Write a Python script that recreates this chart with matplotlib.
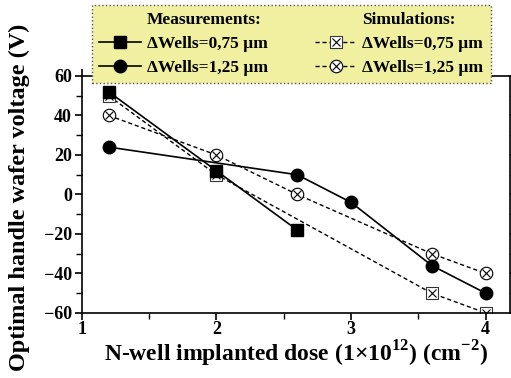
import matplotlib
matplotlib.use('Agg')
import matplotlib.pyplot as plt
from matplotlib.lines import Line2D
from matplotlib.legend_handler import HandlerTuple

plt.rcParams['font.family'] = ['Liberation Serif', 'DejaVu Serif']
plt.rcParams['font.weight'] = 'bold'
plt.rcParams['mathtext.fontset'] = 'custom'
plt.rcParams['mathtext.rm'] = 'Liberation Serif:bold'
plt.rcParams['mathtext.bf'] = 'Liberation Serif:bold'

# measurements
x_meas_075 = [1.2, 2.0, 2.6]
y_meas_075 = [52, 12, -18]
x_meas_125 = [1.2, 2.6, 3.0, 3.6, 4.0]
y_meas_125 = [24, 10, -4, -36, -50]

# simulations
x_sim_075 = [1.2, 2.0, 3.6, 4.0]
y_sim_075 = [50, 10, -50, -60]
x_sim_125 = [1.2, 2.0, 2.6, 3.6, 4.0]
y_sim_125 = [40, 20, 0, -30, -40]

fig = plt.figure(figsize=(5.11, 3.78), dpi=100)
ax = fig.add_axes([0.160, 0.172, 0.838, 0.627])

dash = (0, (3, 2))
# simulation lines (drawn first, under the measurements)
ax.plot(x_sim_075, y_sim_075, color='black', lw=1, ls=dash, marker='s', ms=8,
        mfc='white', mec='#333333', mew=0.8, zorder=2)
ax.plot(x_sim_075, y_sim_075, ls='none', marker='x', ms=6, mec='black', mew=0.8, zorder=2)
ax.plot(x_sim_125, y_sim_125, color='black', lw=1, ls=dash, marker='o', ms=9,
        mfc='white', mec='black', mew=0.8, zorder=2)
ax.plot(x_sim_125, y_sim_125, ls='none', marker='x', ms=6, mec='black', mew=0.8, zorder=2)

ax.plot(x_meas_075, y_meas_075, color='black', lw=1.2, marker='s', ms=8, zorder=3)
ax.plot(x_meas_125, y_meas_125, color='black', lw=1.2, marker='o', ms=9, zorder=3)

ax.set_xlim(1, 4.18)
ax.set_ylim(-60, 60)
ax.set_xticks([1, 2, 3, 4])
ax.set_xticks([1.5, 2.5, 3.5], minor=True)
ax.set_yticks(range(-60, 61, 20))
ax.set_yticks(range(-50, 60, 20), minor=True)
ax.tick_params(axis='both', which='major', labelsize=13, width=1.2, length=5)
ax.tick_params(axis='both', which='minor', width=1, length=4)
ax.tick_params(axis='x', which='both', direction='out', top=True)
ax.tick_params(axis='y', which='both', direction='out', right=True)
ax.tick_params(axis='x', which='major', pad=1)
ax.tick_params(axis='y', which='major', pad=2)
for s in ax.spines.values():
    s.set_linewidth(1.2)

ax.set_xlabel(r'N-well implanted dose (1×10$^{12}$) (cm$^{-2}$)', fontsize=17,
              fontweight='bold', labelpad=0)
ax.set_ylabel('Optimal handle wafer voltage (V)', fontsize=17.5, fontweight='bold')
ax.yaxis.set_label_coords(-0.121, 0.49)

blank = Line2D([], [], ls='none')
h_m075 = Line2D([], [], color='black', lw=1.2, marker='s', ms=8)
h_m125 = Line2D([], [], color='black', lw=1.2, marker='o', ms=9)
h_s075 = (Line2D([], [], color='black', lw=1, ls=dash, marker='s', ms=8, mfc='white', mec='#333333', mew=0.8),
          Line2D([], [], ls='none', marker='x', ms=6, mec='black', mew=0.8))
h_s125 = (Line2D([], [], color='black', lw=1, ls=dash, marker='o', ms=9, mfc='white', mec='black', mew=0.8),
          Line2D([], [], ls='none', marker='x', ms=6, mec='black', mew=0.8))

handles = [blank, h_m075, h_m125, blank, h_s075, h_s125]
labels = ['Measurements:', 'ΔWells=0,75 µm', 'ΔWells=1,25 µm',
          'Simulations:', 'ΔWells=0,75 µm', 'ΔWells=1,25 µm']
leg = fig.legend(handles, labels, ncol=2, loc='upper left',
                 bbox_to_anchor=(92 / 511, 1 - 5 / 378),
                 handler_map={tuple: HandlerTuple(ndivide=1)},
                 prop={'size': 12.5, 'weight': 'bold'}, frameon=True, fancybox=False,
                 handlelength=2.4, handletextpad=0.35, columnspacing=2.7,
                 labelspacing=0.45, borderpad=0.4, borderaxespad=0)
frame = leg.get_frame()
frame.set_facecolor('#f0f0a0')
frame.set_alpha(1)
frame.set_edgecolor('#555555')
frame.set_linestyle(':')
frame.set_linewidth(1)
leg.set_zorder(5)

fig.savefig('out.png', dpi=100)
